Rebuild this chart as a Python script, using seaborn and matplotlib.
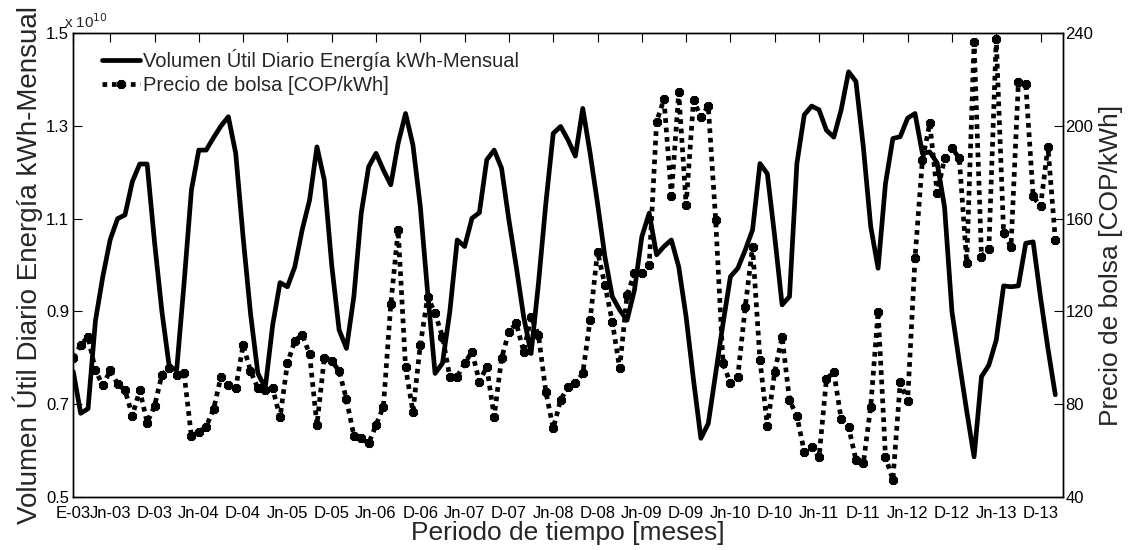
import numpy as np
import pandas as pd
import matplotlib
matplotlib.use("Agg")
import matplotlib.pyplot as plt
import seaborn as sns

# Monthly useful daily energy volume (units of 1e10 kWh) and spot price (COP/kWh)
volumen = [
    0.77, 0.68, 0.69, 0.88, 0.975, 1.055, 1.10, 1.108, 1.18, 1.218,
    1.218, 1.05, 0.90, 0.78, 0.773, 0.96, 1.162, 1.248, 1.248, 1.275,
    1.30, 1.32, 1.241, 1.06, 0.896, 0.766, 0.735, 0.87, 0.962, 0.953,
    0.996, 1.076, 1.14, 1.255, 1.183, 1.0, 0.86, 0.82, 0.932, 1.112,
    1.212, 1.241, 1.205, 1.173, 1.263, 1.327, 1.259, 1.126, 0.939, 0.766,
    0.788, 0.90, 1.054, 1.040, 1.101, 1.113, 1.227, 1.248, 1.209, 1.097,
    0.996, 0.888, 0.809, 0.96, 1.133, 1.284, 1.299, 1.27, 1.235, 1.338,
    1.241, 1.133, 1.018, 0.932, 0.903, 0.881, 0.946, 1.061, 1.112, 1.022,
    1.040, 1.054, 0.996, 0.888, 0.752, 0.626, 0.658, 0.766, 0.874, 0.975,
    0.993, 1.032, 1.076, 1.219, 1.197, 1.061, 0.914, 0.932, 1.219, 1.324,
    1.343, 1.335, 1.291, 1.276, 1.335, 1.417, 1.396, 1.255, 1.083, 0.993,
    1.176, 1.273, 1.277, 1.317, 1.327, 1.241, 1.244, 1.22, 1.125, 0.90,
    0.79, 0.685, 0.586, 0.759, 0.784, 0.838, 0.955, 0.953, 0.955, 1.047,
    1.05, 0.93, 0.82, 0.72,
]

precio = [
    100.0, 105.5, 109.0, 94.5, 88.0, 94.5, 88.7, 86.0, 75.0, 86.0,
    72.0, 79.0, 92.7, 95.5, 92.5, 93.3, 66.0, 68.0, 70.2, 77.8,
    91.8, 88.0, 86.8, 105.5, 94.3, 86.8, 86.0, 86.8, 74.2, 97.6,
    107.2, 110.0, 101.5, 71.0, 100.0, 98.6, 94.3, 82.0, 66.3, 65.3,
    63.0, 71.0, 78.9, 123.0, 155.0, 95.8, 76.7, 105.5, 126.3, 119.1,
    109.1, 91.5, 91.8, 97.6, 102.6, 89.7, 96.1, 74.5, 99.7, 111.2,
    114.8, 102.6, 117.7, 109.8, 85.3, 69.5, 81.7, 87.5, 88.9, 93.2,
    116.3, 145.8, 131.4, 115.5, 95.4, 127.0, 136.4, 136.4, 140.0, 201.9,
    211.5, 170.0, 214.5, 165.9, 211.2, 203.8, 208.6, 159.5, 97.6, 88.9,
    91.8, 121.7, 147.9, 99.0, 70.5, 94.0, 109.0, 81.7, 74.8, 59.4,
    61.6, 57.0, 90.7, 94.0, 73.4, 70.2, 55.8, 54.4, 78.9, 119.9,
    57.3, 47.2, 89.5, 81.2, 143.0, 185.3, 201.1, 171.0, 186.0, 190.6,
    186.0, 141.0, 236.3, 143.6, 147.0, 237.5, 153.7, 147.9, 219.1, 218.0,
    169.6, 165.3, 191.0, 151.0,
]

tick_labels = [
    "E-03", "Jn-03", "D-03", "Jn-04", "D-04", "Jn-05", "D-05", "Jn-06",
    "D-06", "Jn-07", "D-07", "Jn-08", "D-08", "Jn-09", "D-09", "Jn-10",
    "D-10", "Jn-11", "D-11", "Jn-12", "D-12", "Jn-13", "D-13",
]
tick_pos = [1] + list(range(6, 133, 6))

vol_ticks = [0.5, 0.7, 0.9, 1.1, 1.3, 1.5]
precio_ticks = [40, 80, 120, 160, 200, 240]

label_vol = "Volumen Útil Diario Energía kWh-Mensual"
label_precio = "Precio de bolsa [COP/kWh]"

df = pd.DataFrame({
    "mes": np.arange(1, len(volumen) + 1),
    "volumen": volumen,
    "precio": precio,
})

sns.set_style("white")
plt.rcParams["font.family"] = ["Liberation Sans", "DejaVu Sans"]

fig = plt.figure(figsize=(11.31, 5.5), dpi=100)
ax = fig.add_axes([0.0648, 0.0969, 0.8748, 0.8425])
ax2 = ax.twinx()

sns.lineplot(data=df, x="mes", y="volumen", ax=ax, color="black",
             linewidth=3.4, label=label_vol, legend=False)
sns.lineplot(data=df, x="mes", y="precio", ax=ax2, color="black",
             linewidth=3.4, linestyle=(0, (1, 1)), dash_capstyle="butt",
             marker=(8, 2, 0), markersize=6.5, markeredgewidth=2.6,
             markeredgecolor="black", label=label_precio, legend=False)

ax.set_xlim(1, 135)
ax.set_ylim(0.5, 1.5)
ax2.set_ylim(40, 240)
ax.set_xticks(tick_pos)
ax.set_xticklabels(tick_labels)
ax.set_yticks(vol_ticks)
ax.set_yticklabels([f"{v:g}" for v in vol_ticks])
ax2.set_yticks(precio_ticks)
ax2.set_yticklabels([str(v) for v in precio_ticks])

for a in (ax, ax2):
    for s in a.spines.values():
        s.set_visible(True)
        s.set_color("black")
        s.set_linewidth(1.0)

ax.tick_params(axis="x", direction="in", length=6.5, width=0.8, top=True,
               labelsize=12, pad=6.5, colors="black")
ax.tick_params(axis="y", direction="in", length=6.5, width=0.8,
               labelsize=12, pad=3, colors="black")
ax2.tick_params(axis="y", direction="in", length=6.5, width=0.8,
                labelsize=12, pad=2, colors="black")

ax.set_xlabel("Periodo de tiempo [meses]", fontsize=19, labelpad=0)
ax.set_ylabel(label_vol, fontsize=20, labelpad=2)
ax2.set_ylabel(label_precio, fontsize=19, labelpad=4)

ax.text(-0.009, 1.011, "x 10$^{10}$", transform=ax.transAxes,
        fontsize=11, ha="left", va="baseline")

h1 = ax.get_lines()[0]
h2 = ax2.get_lines()[0]
ax2.legend([h1, h2], [label_vol, label_precio], loc="upper left",
           bbox_to_anchor=(0.0287, 0.966), frameon=False, borderpad=0,
           borderaxespad=0, handlelength=1.9, handletextpad=0.15,
           labelspacing=0.25, fontsize=14.5)

fig.savefig("out.png", dpi=100)
